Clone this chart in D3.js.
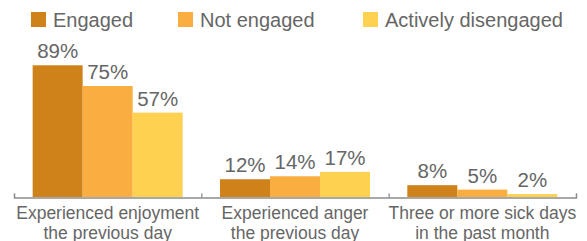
<!DOCTYPE html>
<html>
<head>
<meta charset="utf-8">
<script src="https://cdn.jsdelivr.net/npm/d3@7"></script>
<style>
  body { margin: 0; background: #fff; }
  text { font-family: "Liberation Sans", Arial, Helvetica, sans-serif; fill: #666; }
  .x.axis .domain { display: none; }
</style>
</head>
<body>
<div id="chart"></div>
<script>
// data
var categories = ["Experienced enjoyment|the previous day", "Experienced anger|the previous day", "Three or more sick days|in the past month"];
var seriesNames = ["Engaged", "Not engaged", "Actively disengaged"];
var engaged = [89, 12, 8];
var notEngaged = [75, 14, 5];
var activelyDisengaged = [57, 17, 2];
var seriesColors = ["#d0821a", "#faad40", "#fed150"];

var width = 587, height = 241;
var margin = {left: 14, right: 11, top: 49, bottom: 44};

var svg = d3.select("#chart").append("svg")
    .attr("width", width)
    .attr("height", height);

var table = categories.map(function(c, i) {
  return {cat: c, values: [engaged[i], notEngaged[i], activelyDisengaged[i]]};
});

//scales
var x0 = d3.scaleBand()
    .domain(categories)
    .range([margin.left, width - margin.right])
    .padding(0);

var x1 = d3.scaleBand()
    .domain(seriesNames)
    .range([0, x0.bandwidth()])
    .paddingInner(0)
    .paddingOuter(0.373);

var y = d3.scaleLinear()
    .domain([0, 100])
    .range([height - margin.bottom, margin.top]);

var color = d3.scaleOrdinal().domain(seriesNames).range(seriesColors);

//legend
var legendX = [31, 178, 363];
var legend = svg.selectAll(".legend")
    .data(seriesNames)
  .enter().append("g")
    .attr("class", "legend")
    .attr("transform", function(d, i) { return "translate(" + legendX[i] + ",12)"; });

legend.append("rect")
    .attr("width", 15)
    .attr("height", 15)
    .attr("fill", function(d) { return color(d); });

legend.append("text")
    .attr("x", 22)
    .attr("y", 14.6)
    .style("font-size", "20px")
    .text(function(d) { return d; });

//bars
var groups = svg.selectAll(".group")
    .data(table)
  .enter().append("g")
    .attr("class", "group")
    .attr("transform", function(d) { return "translate(" + x0(d.cat) + ",0)"; });

var cells = groups.selectAll(".cell")
    .data(function(d) { return d.values.map(function(v, j) { return {name: seriesNames[j], value: v}; }); })
  .enter().append("g")
    .attr("class", "cell");

cells.append("rect")
    .attr("x", function(d) { return x1(d.name); })
    .attr("width", x1.bandwidth())
    .attr("y", function(d) { return y(d.value); })
    .attr("height", function(d) { return y(0) - y(d.value); })
    .attr("fill", function(d) { return color(d.name); });

cells.append("text")
    .attr("x", function(d) { return x1(d.name) + x1.bandwidth() / 2; })
    .attr("y", function(d) { return y(d.value) - 7; })
    .attr("text-anchor", "middle")
    .style("font-size", "20.5px")
    .text(function(d) { return d.value + "%"; });

//x axis line with boundary ticks
var edges = d3.scaleLinear()
    .domain([0, categories.length])
    .range(x0.range());

svg.append("g")
    .attr("class", "edge axis")
    .attr("transform", "translate(0," + (y(0) + 0.5) + ")")
    .call(d3.axisBottom(edges)
      .tickValues(d3.range(categories.length + 1))
      .tickSize(-4)
      .tickSizeOuter(-4)
      .tickFormat(""))
    .call(function(g) {
      g.selectAll("path, line").attr("stroke", "#8c8c8c").attr("stroke-width", 1.3);
    });

//category labels
var xAxis = svg.append("g")
    .attr("class", "x axis")
    .attr("transform", "translate(0," + y(0) + ")")
    .call(d3.axisBottom(x0).tickSize(0).tickFormat(""));

xAxis.selectAll(".tick").append("text")
    .attr("text-anchor", "middle")
    .style("font-size", "17.5px")
    .selectAll("tspan")
    .data(function(d) { return d.split("|"); })
  .enter().append("tspan")
    .attr("x", 0)
    .attr("y", function(d, i) { return 22 + i * 19.5; })
    .text(function(d) { return d; });
</script>
</body>
</html>
